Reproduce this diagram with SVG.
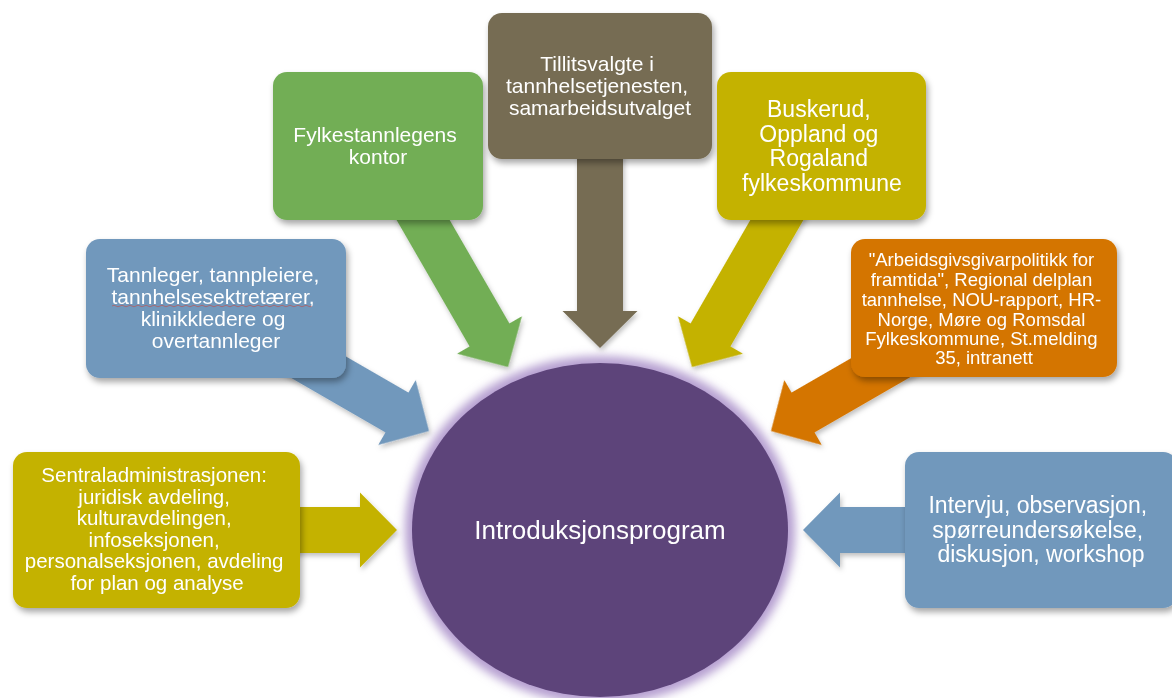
<svg xmlns="http://www.w3.org/2000/svg" width="1172" height="698" viewBox="0 0 1172 698">
  <defs>
    <filter id="shadow" x="-20%" y="-20%" width="140%" height="150%">
      <feDropShadow dx="2" dy="4" stdDeviation="3" flood-color="#000" flood-opacity="0.35"/>
    </filter>
    <filter id="ashadow" x="-20%" y="-20%" width="140%" height="150%">
      <feDropShadow dx="1.5" dy="3" stdDeviation="2.5" flood-color="#000" flood-opacity="0.25"/>
    </filter>
    <filter id="glow" x="-20%" y="-20%" width="140%" height="140%">
      <feGaussianBlur stdDeviation="5"/>
    </filter>
    <polygon id="arr" points="-260,-23 -37,-23 -37,-37.5 0,0 -37,37.5 -37,23 -260,23"/>
  </defs>
  <style>
    .t { font-family: "Liberation Sans", Arial, sans-serif; fill: #ffffff; text-anchor: middle; }
    .box { filter: url(#shadow); }
  </style>
  <rect width="1172" height="698" fill="#ffffff"/>

  <g id="connectors" filter="url(#ashadow)">
    <use href="#arr" transform="translate(397,530) rotate(0)" fill="#c4b200"/>
    <use href="#arr" transform="translate(429,431) rotate(30)" fill="#7198bc"/>
    <use href="#arr" transform="translate(508,367) rotate(60)" fill="#72ae55"/>
    <use href="#arr" transform="translate(600,348) rotate(90)" fill="#766c52"/>
    <use href="#arr" transform="translate(692,367) rotate(120)" fill="#c4b200"/>
    <use href="#arr" transform="translate(771,431) rotate(150)" fill="#d47500"/>
    <use href="#arr" transform="translate(803,530) rotate(180)" fill="#7198bc"/>
  </g>

  <g id="center">
    <ellipse cx="600" cy="530" rx="195" ry="174" fill="#b59fd0" filter="url(#glow)"/>
    <ellipse cx="600" cy="530" rx="188" ry="167" fill="#5d447a"/>
    <text class="t" x="600" y="539" font-size="26">Introduksjonsprogram</text>
  </g>

  <g id="sentraladministrasjonen">
    <rect class="box" x="13" y="452" width="287" height="156" rx="14" fill="#c4b200"/>
    <text class="t" font-size="20.5">
      <tspan x="157" y="482">Sentraladministrasjonen:</tspan>
      <tspan x="157" y="503.5">juridisk avdeling,</tspan>
      <tspan x="157" y="525">kulturavdelingen,</tspan>
      <tspan x="157" y="546.5">infoseksjonen,</tspan>
      <tspan x="157" y="568">personalseksjonen, avdeling</tspan>
      <tspan x="157" y="590">for plan og analyse</tspan>
    </text>
  </g>

  <g id="tannleger">
    <rect class="box" x="86" y="239" width="260" height="139" rx="14" fill="#7198bc"/>
    <text class="t" font-size="21">
      <tspan x="216" y="282">Tannleger, tannpleiere,</tspan>
      <tspan x="216" y="304">tannhelsesektretærer,</tspan>
      <tspan x="216" y="326">klinikkledere og</tspan>
      <tspan x="216" y="348">overtannleger</tspan>
    </text>
    <path d="M112,306 q2,-1.5 4,0 t4,0 t4,0 t4,0 t4,0 t4,0 t4,0 t4,0 t4,0 t4,0 t4,0 t4,0 t4,0 t4,0 t4,0 t4,0 t4,0 t4,0 t4,0 t4,0 t4,0 t4,0 t4,0 t4,0 t4,0 t4,0 t4,0 t4,0 t4,0 t4,0 t4,0 t4,0 t4,0 t4,0 t4,0 t4,0 t4,0 t4,0 t4,0 t4,0 t4,0 t4,0 t4,0 t4,0 t4,0 t4,0 t4,0 t4,0 t4,0 t4,0" fill="none" stroke="#c0504d" stroke-width="0.8" opacity="0.8"/>
  </g>

  <g id="fylkestannlegens">
    <rect class="box" x="273" y="72" width="210" height="148" rx="14" fill="#72ae55"/>
    <text class="t" font-size="21">
      <tspan x="378" y="142">Fylkestannlegens</tspan>
      <tspan x="378" y="163.5">kontor</tspan>
    </text>
  </g>

  <g id="tillitsvalgte">
    <rect class="box" x="488" y="13" width="224" height="146" rx="14" fill="#766c52"/>
    <text class="t" font-size="21">
      <tspan x="600" y="71">Tillitsvalgte i</tspan>
      <tspan x="600" y="93">tannhelsetjenesten,</tspan>
      <tspan x="600" y="115">samarbeidsutvalget</tspan>
    </text>
  </g>

  <g id="buskerud">
    <rect class="box" x="717" y="72" width="209" height="148" rx="14" fill="#c4b200"/>
    <text class="t" font-size="23">
      <tspan x="822" y="117">Buskerud,</tspan>
      <tspan x="822" y="141.5">Oppland og</tspan>
      <tspan x="822" y="166">Rogaland</tspan>
      <tspan x="822" y="190.5">fylkeskommune</tspan>
    </text>
  </g>

  <g id="arbeidsgivarpolitikk">
    <rect class="box" x="851" y="239" width="266" height="138" rx="14" fill="#d47500"/>
    <text class="t" font-size="18.5">
      <tspan x="984" y="266">"Arbeidsgivsgivarpolitikk for</tspan>
      <tspan x="984" y="286">framtida", Regional delplan</tspan>
      <tspan x="984" y="306">tannhelse, NOU-rapport, HR-</tspan>
      <tspan x="984" y="325.5">Norge, Møre og Romsdal</tspan>
      <tspan x="984" y="345">Fylkeskommune, St.melding</tspan>
      <tspan x="984" y="364">35, intranett</tspan>
    </text>
  </g>

  <g id="intervju">
    <rect class="box" x="905" y="452" width="272" height="156" rx="14" fill="#7198bc"/>
    <text class="t" font-size="23">
      <tspan x="1041" y="513">Intervju, observasjon,</tspan>
      <tspan x="1041" y="537.5">spørreundersøkelse,</tspan>
      <tspan x="1041" y="562">diskusjon, workshop</tspan>
    </text>
  </g>
</svg>
